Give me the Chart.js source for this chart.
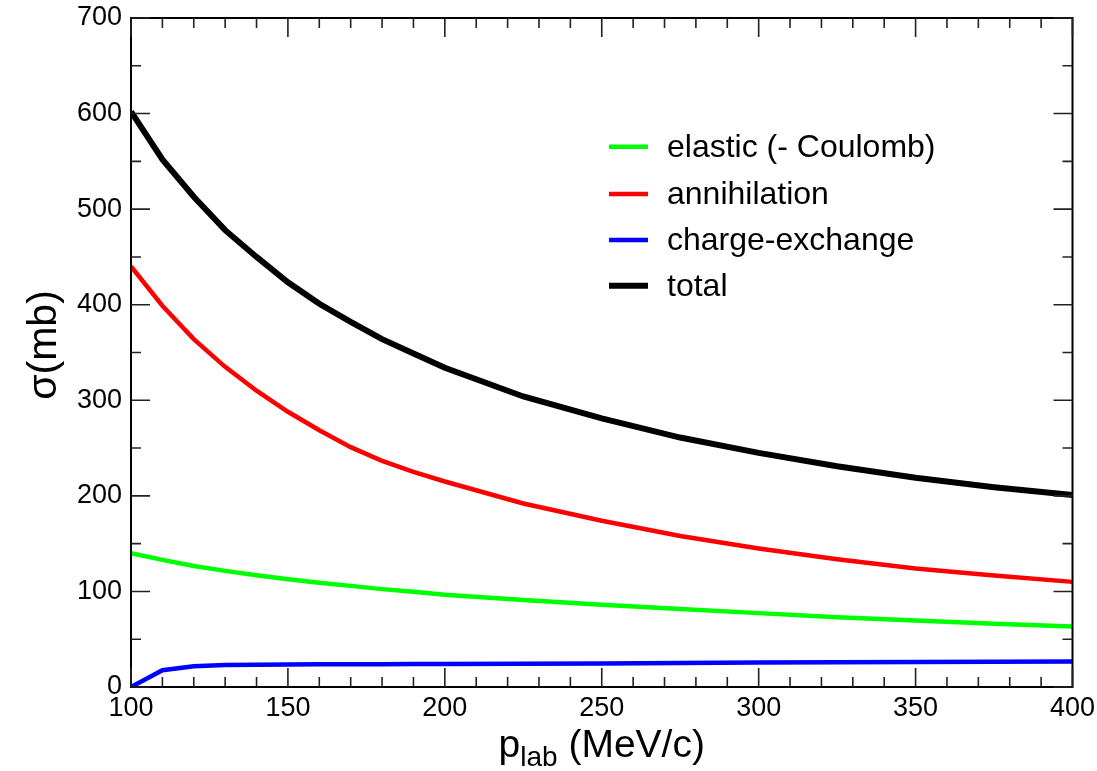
<!DOCTYPE html>
<html>
<head>
<meta charset="utf-8">
<script src="https://cdn.jsdelivr.net/npm/chart.js@4.4.1/dist/chart.umd.min.js"></script>
<style>
html,body{margin:0;padding:0;background:#fff;}
#wrap{width:1097px;height:771px;position:relative;}
</style>
</head>
<body>
<div id="wrap"><canvas id="c" width="1097" height="771"></canvas></div>
<script>
const pLab = [100,110,120,130,140,150,160,170,180,190,200,225,250,275,300,325,350,375,400];
const elastic = [140,133,126.7,121.5,117,112.8,109,105.8,102.4,99.6,96.5,91,86,81.6,77.3,73,69.6,66.3,63.4];
const annihilation = [440,399,364,335,310,288,268.7,251,236.6,225,215,192,174,158,145,133.7,124,116.6,110];
const chargeExchange = [0,17.5,21.6,23,23.4,23.6,23.7,23.8,23.9,24,24.1,24.4,24.7,25.2,25.6,26,26.2,26.5,26.8];
const total = [602,552,513,478,450,423.5,401,382,364,349,334,304,281,261,245,231,219,209,200.8];
const seriesLabels = ['elastic (- Coulomb)','annihilation','charge-exchange','total'];
const seriesColors = ['#00ff00','#ff0000','#0000ff','#000000'];
const xTicks = [100,150,200,250,300,350,400];
const yTicks = [0,100,200,300,400,500,600,700];

const FONT = 'Liberation Sans, Arial, Helvetica, sans-serif';

function pts(arr){ return pLab.map((x,i)=>({x:x,y:arr[i]})); }

const framePlugin = {
  id:'frame',
  afterDatasetsDraw(chart){
    const ctx = chart.ctx, a = chart.chartArea;
    const xs = chart.scales.x, ys = chart.scales.y;
    ctx.save();
    ctx.strokeStyle = '#000';
    ctx.lineWidth = 2;
    ctx.strokeRect(a.left, a.top, a.right-a.left, a.bottom-a.top);
    ctx.lineWidth = 1.6;
    ctx.strokeStyle = '#222';
    ctx.beginPath();
    for(let v=100; v<=400; v+=10){
      const px = xs.getPixelForValue(v);
      const len = (v%50===0)?19:10;
      ctx.moveTo(px, a.bottom); ctx.lineTo(px, a.bottom-len);
      ctx.moveTo(px, a.top); ctx.lineTo(px, a.top+len);
    }
    for(let v=0; v<=700; v+=50){
      const py = ys.getPixelForValue(v);
      const len = (v%100===0)?19:10;
      ctx.moveTo(a.left, py); ctx.lineTo(a.left+len, py);
      ctx.moveTo(a.right, py); ctx.lineTo(a.right-len, py);
    }
    ctx.stroke();

    // legend
    const rows = [146.7,194,240,285.7];
    chart.data.datasets.forEach((ds,i)=>{
      ctx.strokeStyle = ds.borderColor;
      ctx.lineWidth = ds.borderWidth;
      ctx.beginPath();
      ctx.moveTo(609, rows[i]); ctx.lineTo(648, rows[i]);
      ctx.stroke();
      ctx.fillStyle = '#000';
      ctx.font = '32px ' + FONT;
      ctx.textBaseline = 'middle';
      ctx.textAlign = 'left';
      ctx.fillText(ds.label, 667, rows[i]+1);
    });

    // axis titles
    ctx.fillStyle = '#000';
    ctx.textBaseline = 'alphabetic';
    const main = '39px ' + FONT, sub = '28px ' + FONT;
    ctx.font = main; const wP = ctx.measureText('p').width;
    const wRest = ctx.measureText(' (MeV/c)').width;
    ctx.font = sub; const wLab = ctx.measureText('lab').width;
    const totalW = wP + wLab + wRest;
    let x0 = (a.left + a.right)/2 - totalW/2;
    const base = 757;
    ctx.font = main; ctx.textAlign='left';
    ctx.fillText('p', x0, base);
    ctx.font = sub; ctx.fillText('lab', x0+wP, base+9);
    ctx.font = main; ctx.fillText(' (MeV/c)', x0+wP+wLab, base);
    ctx.save();
    ctx.translate(45, 345);
    ctx.rotate(-Math.PI/2);
    ctx.font = '41px ' + FONT;
    ctx.textAlign = 'center';
    ctx.textBaseline = 'middle';
    ctx.fillText('\u03c3(mb)', 0, 0);
    ctx.restore();
    ctx.restore();
  }
};

const mk = (lbl, data, color, w) => ({
  label: lbl, data: pts(data), borderColor: color, backgroundColor: color,
  borderWidth: w, pointRadius: 0, tension: 0, fill: false, borderCapStyle:'butt'
});

new Chart(document.getElementById('c'), {
  type: 'line',
  data: {
    datasets: [
      mk(seriesLabels[0], elastic, seriesColors[0], 4.5),
      mk(seriesLabels[1], annihilation, seriesColors[1], 4.5),
      mk(seriesLabels[2], chargeExchange, seriesColors[2], 4.5),
      mk(seriesLabels[3], total, seriesColors[3], 6)
    ]
  },
  options: {
    responsive: false,
    animation: false,
    layout: { padding: { top: 18, right: 24.5, left: 0, bottom: 0 } },
    plugins: { legend: { display: false }, tooltip: { enabled: false } },
    scales: {
      x: {
        type: 'linear', min: 100, max: 400,
        afterBuildTicks: s => { s.ticks = xTicks.map(v=>({value:v})); },
        afterFit: s => { s.height = 84; s.paddingLeft = 0; s.paddingRight = 0; },
        grid: { display: false, drawTicks: false },
        border: { display: false },
        ticks: { color: '#000', font: { size: 27, family: FONT }, padding: 5, maxRotation: 0 }
      },
      y: {
        type: 'linear', min: 0, max: 700,
        afterBuildTicks: s => { s.ticks = yTicks.map(v=>({value:v})); },
        afterFit: s => { s.width = 131; s.paddingTop = 0; s.paddingBottom = 0; },
        grid: { display: false, drawTicks: false },
        border: { display: false },
        ticks: { color: '#000', font: { size: 27, family: FONT }, padding: 9 }
      }
    }
  },
  plugins: [framePlugin]
});
</script>
</body>
</html>
